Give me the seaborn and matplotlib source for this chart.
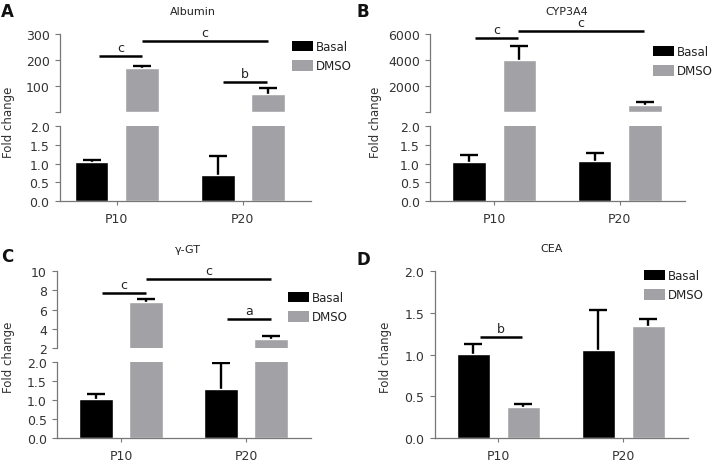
import numpy as np
import pandas as pd
import matplotlib
matplotlib.use("Agg")
import matplotlib.pyplot as plt
from matplotlib.patches import Patch
import seaborn as sns

sns.set_style("ticks")
plt.rcParams['font.family'] = ['DejaVu Sans']
plt.rcParams['axes.edgecolor'] = '#777777'
plt.rcParams['axes.linewidth'] = 0.9
plt.rcParams['xtick.color'] = '#777777'
plt.rcParams['ytick.color'] = '#777777'
plt.rcParams['xtick.labelcolor'] = '#333333'
plt.rcParams['ytick.labelcolor'] = '#333333'

# ---- data ----
passages = ['P10', 'P20']
groups = ['Basal', 'DMSO']
colors = ['#000000', '#a2a2a6']

alb_basal, alb_basal_err = [1.03, 0.70], [0.06, 0.51]
alb_dmso, alb_dmso_err = [169, 71], [6, 21]
cyp_basal, cyp_basal_err = [1.03, 1.07], [0.19, 0.21]
cyp_dmso, cyp_dmso_err = [3980, 530], [1110, 205]
ggt_basal, ggt_basal_err = [1.04, 1.29], [0.11, 0.69]
ggt_dmso, ggt_dmso_err = [6.79, 2.93], [0.28, 0.35]
cea_basal, cea_basal_err = [1.01, 1.06], [0.12, 0.47]
cea_dmso, cea_dmso_err = [0.375, 1.347], [0.03, 0.08]

# significance brackets: (x start, x end, height, letter)
alb_sig = [(-0.14, 0.2, 215, 'c'), (0.2, 1.2, 271, 'c'), (0.84, 1.19, 116, 'b')]
cyp_sig = [(-0.15, 0.19, 5650, 'c'), (0.19, 1.19, 6205, 'c')]
ggt_sig = [(-0.15, 0.2, 7.69, 'c'), (0.2, 1.2, 9.2, 'c'), (0.85, 1.2, 5.03, 'a')]
cea_sig = [(-0.15, 0.19, 1.21, 'b')]

W, H = 714, 464
fig = plt.figure(figsize=(W / 100, H / 100), dpi=100)


def add_ax(x0, y0, x1, y1):
    return fig.add_axes([x0 / W, 1 - y1 / H, (x1 - x0) / W, (y1 - y0) / H])


def draw_bars(ax, basal, basal_err, dmso, dmso_err, ylim):
    df = pd.DataFrame({
        'passage': passages * 2,
        'group': [groups[0]] * 2 + [groups[1]] * 2,
        'value': basal + dmso,
    })
    sns.barplot(data=df, x='passage', y='value', hue='group', hue_order=groups,
                palette=colors, saturation=1, gap=0.33, errorbar=None,
                legend=False, ax=ax, zorder=2)
    errs = basal_err + dmso_err
    xs, hs, es = [], [], []
    for p, e in zip(ax.patches, errs):
        h = p.get_height()
        # only error bars whose top lies inside this (broken) segment
        if ylim[0] < h + e and h < ylim[1]:
            xs.append(p.get_x() + p.get_width() / 2)
            hs.append(h)
            es.append(e)
    if xs:
        eb = ax.errorbar(xs, hs, yerr=[np.zeros(len(es)), es], fmt='none',
                         ecolor='black', elinewidth=1.7, capsize=6.5,
                         capthick=1.7, zorder=1)
        eb[1][0].set_visible(False)  # lower caps off, GraphPad style
    ax.set_ylim(*ylim)
    ax.set_xlabel('')
    ax.set_ylabel('')


def draw_sig(ax, sig):
    for x0, x1, y, lab in sig:
        ax.plot([x0, x1], [y, y], color='black', lw=1.8, clip_on=False,
                solid_capstyle='butt')
        ax.annotate(lab, ((x0 + x1) / 2, y), xytext=(0, 1.5),
                    textcoords='offset points', ha='center', va='bottom',
                    fontsize=9, color='#222222', annotation_clip=False)


def style_lower(ax, xlim):
    ax.set_xlim(*xlim)
    ax.set_yticks([0, 0.5, 1.0, 1.5, 2.0])
    ax.set_yticklabels(['0.0', '0.5', '1.0', '1.5', '2.0'])
    ax.tick_params(axis='y', labelsize=9, length=3.5, pad=4)
    ax.tick_params(axis='x', labelsize=9, length=3, pad=5)
    sns.despine(ax=ax)


def style_upper(ax, xlim, ticks, labels):
    ax.set_xlim(*xlim)
    ax.set_yticks(ticks)
    ax.set_yticklabels(labels)
    ax.tick_params(axis='y', labelsize=9, length=3.5, pad=4)
    ax.set_xticks([])
    sns.despine(ax=ax, bottom=True)


def add_legend(x, y):
    handles = [Patch(facecolor=c, edgecolor='none') for c in colors]
    fig.legend(handles, groups, loc='upper left',
               bbox_to_anchor=(x / W, 1 - y / H), frameon=False,
               fontsize=8.5, handlelength=1.75, handleheight=1.0,
               handletextpad=0.3, labelspacing=0.55, borderpad=0,
               borderaxespad=0, labelcolor='#222222')


# ---- A: Albumin ----
a_up = add_ax(60, 34.7, 311, 112.7)
a_lo = add_ax(60, 126.7, 311, 202.3)
draw_bars(a_up, alb_basal, alb_basal_err, alb_dmso, alb_dmso_err, (2, 300))
draw_bars(a_lo, alb_basal, alb_basal_err, alb_dmso, alb_dmso_err, (0, 2))
style_upper(a_up, (-0.45, 1.54), [2, 100, 200, 300], ['', '100', '200', '300'])
style_lower(a_lo, (-0.45, 1.54))
draw_sig(a_up, alb_sig)

# ---- B: CYP3A4 ----
b_up = add_ax(430.3, 34.7, 685, 112.7)
b_lo = add_ax(430.3, 126.7, 685, 202.3)
draw_bars(b_up, cyp_basal, cyp_basal_err, cyp_dmso, cyp_dmso_err, (2, 6000))
draw_bars(b_lo, cyp_basal, cyp_basal_err, cyp_dmso, cyp_dmso_err, (0, 2))
style_upper(b_up, (-0.51, 1.52), [2, 2000, 4000, 6000],
            ['', '2000', '4000', '6000'])
style_lower(b_lo, (-0.51, 1.52))
draw_sig(b_up, cyp_sig)

# ---- C: gamma-GT ----
c_up = add_ax(57.3, 272, 311, 349.3)
c_lo = add_ax(57.3, 363, 311, 439.3)
draw_bars(c_up, ggt_basal, ggt_basal_err, ggt_dmso, ggt_dmso_err, (2, 10))
draw_bars(c_lo, ggt_basal, ggt_basal_err, ggt_dmso, ggt_dmso_err, (0, 2))
style_upper(c_up, (-0.51, 1.52), [2, 4, 6, 8, 10], ['2', '4', '6', '8', '10'])
style_lower(c_lo, (-0.51, 1.52))
draw_sig(c_up, ggt_sig)

# ---- D: CEA ----
d_ax = add_ax(434.7, 272, 688.3, 439.3)
draw_bars(d_ax, cea_basal, cea_basal_err, cea_dmso, cea_dmso_err, (0, 2))
style_lower(d_ax, (-0.51, 1.52))
draw_sig(d_ax, cea_sig)

# ---- text: titles, panel letters, y labels, legends ----
for x, y, t in [(193, 12, 'Albumin'), (567, 12, 'CYP3A4'),
                (188, 250, 'γ-GT'), (552, 249, 'CEA')]:
    fig.text(x / W, 1 - y / H, t, ha='center', va='center', fontsize=8,
             color='#222222')
for x, y, t in [(1, 3, 'A'), (357, 3, 'B'), (1, 248, 'C'), (357, 251, 'D')]:
    fig.text(x / W, 1 - y / H, t, ha='left', va='top', fontsize=12,
             fontweight='bold', color='#111111')
for x, y in [(9, 122), (375, 122), (9, 357), (385, 357)]:
    fig.text(x / W, 1 - y / H, 'Fold change', rotation=90, ha='center',
             va='center', fontsize=8.5, color='#333333')

add_legend(292, 41)
add_legend(653, 46)
add_legend(288, 292)
add_legend(644, 270)

fig.savefig('out.png', dpi=100)
